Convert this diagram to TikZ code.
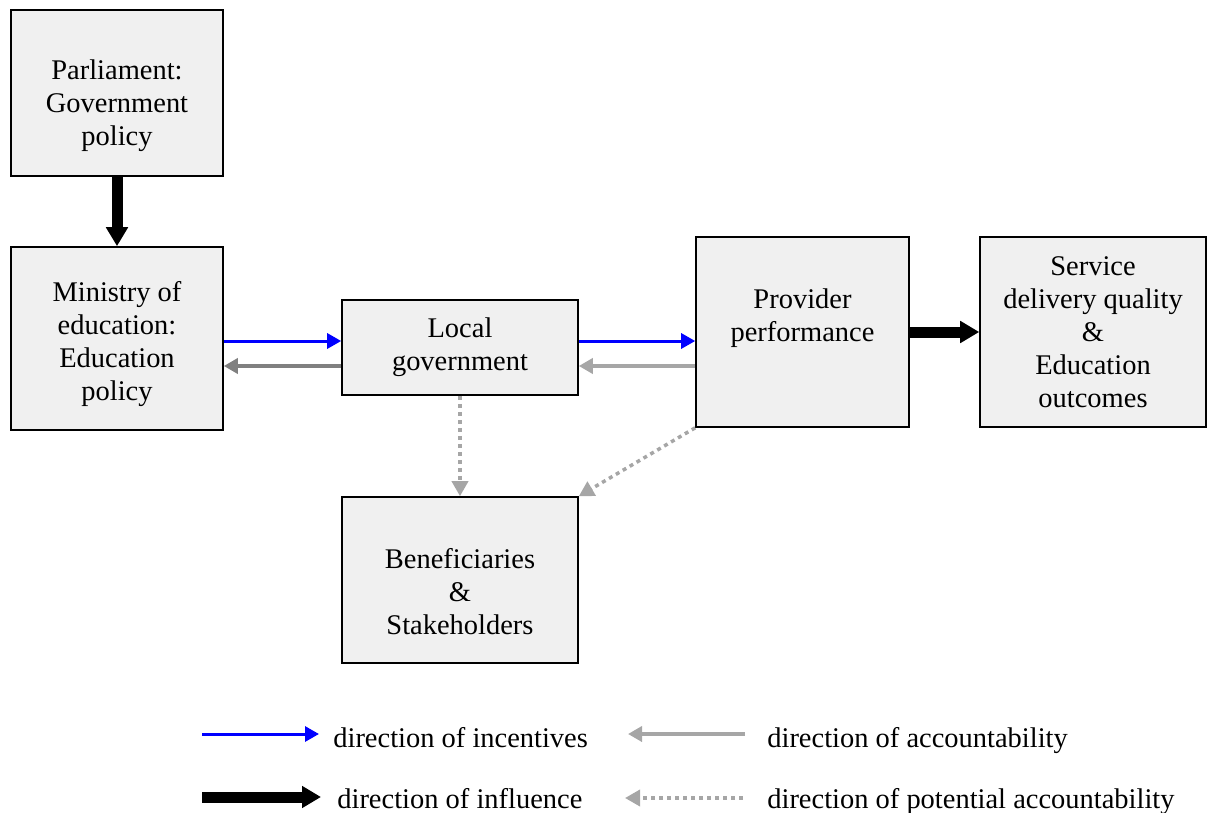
\documentclass[tikz,border=0pt]{standalone}
\usepackage{fontspec}
\setmainfont{Liberation Serif}
\usetikzlibrary{
    arrows.meta,   % For the arrow tips
    positioning,   % For relative placement of nodes
    calc           % For coordinate calculations
}
\definecolor{boxgray}{RGB}{240,240,240}
\definecolor{accgray}{RGB}{166,166,166}
\definecolor{darkgray}{RGB}{128,128,128}

\begin{document}
\begin{tikzpicture}[
    font=\fontsize{16.2pt}{18.8pt}\selectfont,
    boxnode/.style={
        draw=black,
        line width=0.9pt,
        fill=boxgray,
        align=center,
        inner sep=2pt
    },
    incentive/.style={-{Triangle[length=0.28cm,width=0.3cm]}, blue, line width=0.06cm},
    accountability/.style={-{Triangle[length=0.28cm,width=0.3cm]}, accgray, line width=0.07cm},
    influence/.style={-{Triangle[length=0.38cm,width=0.42cm]}, black, line width=0.22cm},
    potential/.style={-{Triangle[length=0.3cm,width=0.32cm]}, accgray, line width=0.07cm,
        dash pattern=on 0.08cm off 0.08cm},
    legendtext/.style={anchor=base west, inner sep=0pt}
]
    \useasboundingbox (0,0) rectangle (24.16,16.24);

    % --- The boxes ---
    \node[boxnode, minimum width=4.24cm, minimum height=3.32cm] (parl) at (2.34,14.38)
        {\mbox{}\\[0.25cm]Parliament:\\Government\\policy};
    \node[boxnode, minimum width=4.24cm, minimum height=3.66cm] (min) at (2.34,9.47)
        {\mbox{}\\[-0.03cm]Ministry of\\education:\\Education\\policy};
    \node[boxnode, minimum width=4.72cm, minimum height=1.9cm] (loc) at (9.2,9.29)
        {Local\\government};
    \node[boxnode, minimum width=4.26cm, minimum height=3.8cm] (prov) at (16.05,9.6)
        {Provider\\performance\\\mbox{}};
    \node[boxnode, minimum width=4.52cm, minimum height=3.8cm] (serv) at (21.86,9.6)
        {Service\\delivery quality\\\&\\Education\\outcomes};
    \node[boxnode, minimum width=4.72cm, minimum height=3.32cm] (ben) at (9.2,4.64)
        {\mbox{}\\[0.2cm]Beneficiaries\\\&\\Stakeholders};

    % --- Connectors between the boxes ---
    \coordinate (inc1) at ([yshift=0.13cm]loc.west);
    \coordinate (acc1) at ([yshift=-0.37cm]loc.west);
    \coordinate (inc2) at ([yshift=0.13cm]loc.east);
    \coordinate (acc2) at ([yshift=-0.37cm]loc.east);

    \draw[influence] (min.north |- parl.south) -- (min.north);
    \draw[incentive] (min.east |- inc1) -- (inc1);
    \draw[accountability, darkgray] (acc1) -- (min.east |- acc1);
    \draw[incentive] (inc2) -- (prov.west |- inc2);
    \draw[accountability] (prov.west |- acc2) -- (acc2);
    \draw[influence] (prov.east) -- (serv.west);
    \draw[potential] (loc.south) -- (ben.north);
    \draw[potential] (prov.south west) -- (ben.north east);

    % --- Legend ---
    \draw[incentive] (4.04,1.56) -- (6.38,1.56);
    \node[legendtext] (lginc) at (6.66,1.3) {direction of incentives};
    \draw[accountability] (14.9,1.56) -- (12.56,1.56);
    \node[legendtext] (lgacc) at (15.34,1.3) {direction of accountability};
    \draw[influence] (4.04,0.3) -- (6.42,0.3);
    \node[legendtext] (lginf) at (6.74,0.08) {direction of influence};
    \draw[potential] (14.86,0.28) -- (12.5,0.28);
    \node[legendtext] (lgpot) at (15.34,0.08) {direction of potential accountability};

\end{tikzpicture}
\end{document}
